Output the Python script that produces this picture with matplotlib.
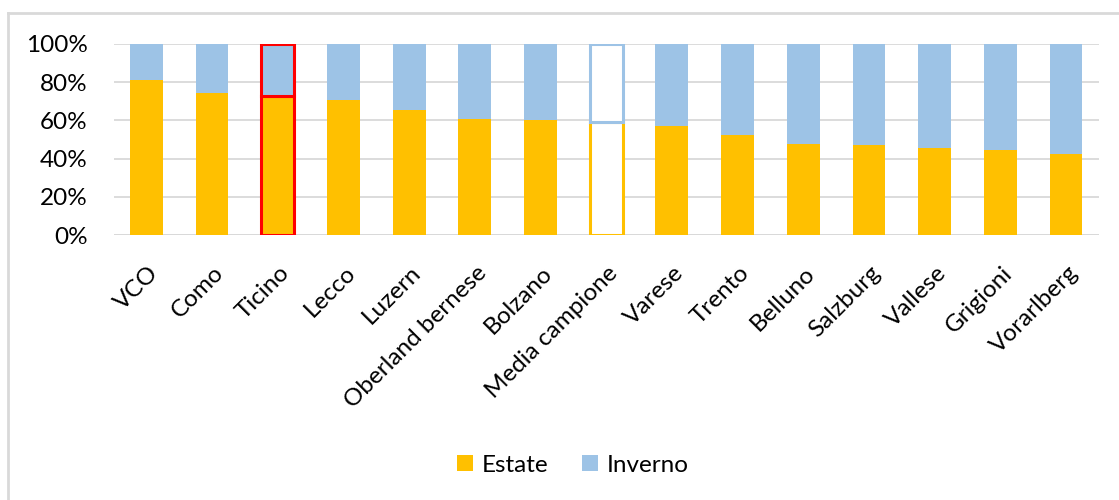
import matplotlib.pyplot as plt
import matplotlib.transforms as mtransforms
from matplotlib.lines import Line2D
from matplotlib.patches import Patch

plt.rcParams['font.family'] = ['Lato', 'DejaVu Sans']

# share of tourist presence by season
aree = ["VCO", "Como", "Ticino", "Lecco", "Luzern", "Oberland bernese", "Bolzano",
        "Media campione", "Varese", "Trento", "Belluno", "Salzburg", "Vallese",
        "Grigioni", "Vorarlberg"]
estate = [81.2, 74.5, 72.8, 70.7, 65.4, 60.7, 60.2, 59.0, 57.1, 52.4, 47.8, 47.0,
          45.7, 44.3, 42.4]
inverno = [100 - v for v in estate]

c_est = "#FFC000"
c_inv = "#9DC3E6"
fs = 17.5

fig = plt.figure(figsize=(11.19, 5.0), dpi=100)
ax = fig.add_axes([0.102, 0.53, 0.880, 0.382])

x = range(len(aree))
fc_e = [c_est] * len(aree)
fc_i = [c_inv] * len(aree)
ec_e = [c_est] * len(aree)
ec_i = [c_inv] * len(aree)
lw = [0] * len(aree)

i_tic = aree.index("Ticino")
ec_e[i_tic] = ec_i[i_tic] = "#FF0000"
lw[i_tic] = 2.2
i_med = aree.index("Media campione")
fc_e[i_med] = fc_i[i_med] = "white"
lw[i_med] = 2.2

ax.bar(x, estate, width=0.5, color=fc_e, edgecolor=ec_e, linewidth=lw, zorder=3)
ax.bar(x, inverno, width=0.5, bottom=estate, color=fc_i, edgecolor=ec_i,
       linewidth=lw, zorder=3)

ax.set_ylim(0, 100)
ax.set_xlim(-0.49, 14.5)
ax.set_yticks([0, 20, 40, 60, 80, 100])
ax.set_yticklabels([f"{v}%" for v in [0, 20, 40, 60, 80, 100]], fontsize=fs)
ax.yaxis.grid(True, color="#D9D9D9", linewidth=1.3, zorder=0)
ax.tick_params(axis="both", length=0, pad=14)
ax.tick_params(axis="y", pad=19)
for s in ax.spines.values():
    s.set_visible(False)
ax.axhline(0, color="#D9D9D9", linewidth=1.3, zorder=1)

ax.set_xticks(list(x))
ax.set_xticklabels(aree, rotation=45, ha="right", va="center",
                   rotation_mode="anchor", fontsize=fs)
shift = mtransforms.ScaledTranslation(6 / 72, -11 / 72, fig.dpi_scale_trans)
for lab in ax.get_xticklabels():
    lab.set_transform(lab.get_transform() + shift)

handles = [Patch(facecolor=c_est, label="Estate"), Patch(facecolor=c_inv, label="Inverno")]
fig.legend(handles=handles, loc="center", bbox_to_anchor=(0.512, 0.07), ncol=2,
           frameon=False, fontsize=fs, handlelength=0.65, handleheight=0.65,
           handletextpad=0.35, columnspacing=1.4)

# chart-area border (top and left visible)
fig.add_artist(Line2D([0.007, 1.0], [0.974, 0.974], color="#D9D9D9", linewidth=2,
                      transform=fig.transFigure))
fig.add_artist(Line2D([0.0075, 0.0075], [0.0, 0.974], color="#D9D9D9", linewidth=2,
                      transform=fig.transFigure))

fig.savefig("out.png", dpi=100)
